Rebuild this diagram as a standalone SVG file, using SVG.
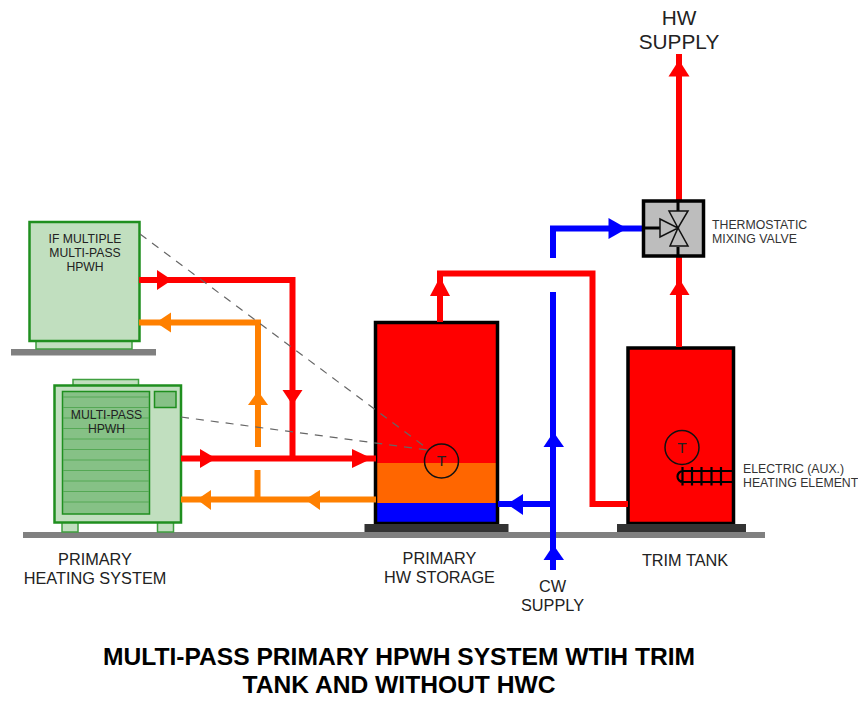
<svg xmlns="http://www.w3.org/2000/svg" width="858" height="707" viewBox="0 0 858 707">
<style>
text{font-family:"Liberation Sans",Arial,sans-serif;fill:#222;text-anchor:middle}
.lbl{font-size:16.3px}
.sm{font-size:12.2px}
.note{font-size:12.3px;fill:#333;text-anchor:start}
.title{font-size:24.6px;font-weight:bold;fill:#000}
.unit{fill:#c1dfbf;stroke:#1f8f1f;stroke-width:2.5}
.thin{fill:#c1dfbf;stroke:#3f9f3f;stroke-width:1.5}
.fin{stroke:#55a855;stroke-width:1;fill:none}
.slab{fill:#808080}
.base{fill:#333}
.pipe{fill:none;stroke-width:6}
.r{stroke:#f00}.o{stroke:#ff8000}.b{stroke:#00f}
.tank{fill:none;stroke:#000;stroke-width:3.5}
.lead{fill:none;stroke:#666;stroke-width:1.200;stroke-dasharray:8 7}
.ar{fill:#f00}.ao{fill:#ff8000}.ab{fill:#00f}
.t{fill:none;stroke:#111;stroke-width:1.5}
.tl{font-size:15.500px}
</style>
<g id="ground">
<rect class="slab" x="23" y="532" width="742" height="6"/>
<rect class="slab" x="11" y="349" width="145" height="6.5"/>
</g>
<g id="secondary-hpwh">
<rect class="thin" x="36" y="341" width="96" height="8"/>
<rect class="unit" x="29.500" y="222" width="110" height="119"/>
<text class="sm" x="85" y="243">IF MULTIPLE</text>
<text class="sm" x="85" y="257">MULTI-PASS</text>
<text class="sm" x="85" y="271">HPWH</text>
</g>
<g id="primary-hpwh">
<rect class="thin" x="73" y="379.500" width="65.500" height="6"/>
<rect class="thin" x="62" y="522" width="16" height="10"/>
<rect class="thin" x="157.500" y="522" width="16" height="10"/>
<rect class="unit" x="54.500" y="385.500" width="126.500" height="137"/>
<rect x="62.500" y="391.500" width="87" height="122.500" fill="#86c186" stroke="#1f8f1f" stroke-width="1.500"/>
<path class="fin" d="M63 397H149M63 407.500H149M63 418H149M63 428.500H149M63 439H149M63 449.500H149M63 460H149M63 470.500H149M63 481H149M63 491.500H149M63 502H149"/>
<rect x="154.500" y="391.500" width="21.500" height="16" fill="#86c186" stroke="#1f8f1f" stroke-width="1.500"/>
<text class="sm" x="106.500" y="419">MULTI-PASS</text>
<text class="sm" x="106.500" y="433">HPWH</text>
</g>
<g id="storage-tank">
<rect x="376" y="323" width="121" height="140" fill="#f00"/>
<rect x="376" y="463" width="121" height="40" fill="#f60"/>
<rect x="376" y="503" width="121" height="20" fill="#00f"/>
<rect class="tank" x="375.500" y="322.500" width="122" height="201"/>
<rect class="base" x="364.500" y="524" width="144" height="8"/>
</g>
<g id="trim-tank">
<rect x="628" y="348" width="105" height="175" fill="#f00"/>
<rect class="tank" x="628" y="348" width="105.500" height="175.500"/>
<rect class="base" x="617" y="524" width="129" height="8"/>
<circle class="t" cx="682" cy="447.500" r="17"/>
<text class="tl" x="682" y="453">T</text>
<path d="M733 471H683A5.500 5.500 0 0 0 683 482H733M682.500 467V485.500M692 467V485.500M701.500 467V485.500M711.500 467V485.500M721 467V485.500" fill="none" stroke="#000" stroke-width="2.200"/>
</g>
<g id="connectors">
<path class="pipe r" d="M139 280H292.500V458"/>
<path class="pipe r" d="M181 458.500H376"/>
<path class="pipe o" d="M139 322.500H258V447"/>
<path class="pipe o" d="M181 499.500H376"/>
<path class="pipe o" d="M257.500 470V499"/>
<path class="pipe r" d="M440 322V273.500H592.500V504H628"/>
<path class="pipe r" d="M679 347V256M679 200V54"/>
<path class="pipe b" d="M553 570V292M553 258V228.500H642"/>
<path class="pipe b" d="M498 504H553"/>
<path class="ar" d="M157 270L172 280L157 290Z"/>
<path class="ar" d="M282.500 390H302.500L292.500 405Z"/>
<path class="ar" d="M200 449L216 458.500L200 468Z"/>
<path class="ar" d="M352 449L372 458.500L352 468Z"/>
<path class="ao" d="M171 312.500V332.500L156 322.500Z"/>
<path class="ao" d="M248 405H268L258 391Z"/>
<path class="ao" d="M211 490V510L197 499.500Z"/>
<path class="ao" d="M320 490V510L305 499.500Z"/>
<path class="ar" d="M430 296H450L440 277Z"/>
<path class="ar" d="M669.500 295H689.500L679.500 279Z"/>
<path class="ar" d="M668.500 76.500H689.500L679 60Z"/>
<path class="ab" d="M543.500 447H564L553.500 432Z"/>
<path class="ab" d="M543.500 560H564L553.500 545Z"/>
<path class="ab" d="M523 494V515L507 504Z"/>
<path class="ab" d="M608.500 218V239L627 228.500Z"/>
<path class="lead" d="M140 234L428 449"/>
<path class="lead" d="M181 417L428 450"/>
</g>
<g id="sensor">
<circle class="t" cx="441.500" cy="461" r="17"/>
<text class="tl" x="441.500" y="466">T</text>
</g>
<g id="mixing-valve">
<rect x="643.500" y="201" width="60" height="55" fill="#bdbdbd" stroke="#000" stroke-width="3.500"/>
<path d="M643 228H660M678 201V211M678 247V256" stroke="#000" stroke-width="3" fill="none"/>
<path d="M660 219L678 228L660 237ZM669 211H688L678 228ZM670 246H688L678 228Z" fill="none" stroke="#111" stroke-width="1.500"/>
</g>
<g id="labels">
<text class="note" x="712" y="229">THERMOSTATIC</text>
<text class="note" x="712" y="243">MIXING VALVE</text>
<text class="note" x="743" y="473">ELECTRIC (AUX.)</text>
<text class="note" x="743" y="487">HEATING ELEMENT</text>
<text x="679" y="25" style="font-size:20.800px">HW</text>
<text x="679" y="49" style="font-size:20.800px">SUPPLY</text>
<text class="lbl" x="95" y="565">PRIMARY</text>
<text class="lbl" x="95" y="584">HEATING SYSTEM</text>
<text class="lbl" x="439.500" y="564">PRIMARY</text>
<text class="lbl" x="439.500" y="583">HW STORAGE</text>
<text class="lbl" x="685" y="566">TRIM TANK</text>
<text class="lbl" x="552.500" y="592">CW</text>
<text class="lbl" x="552.500" y="611">SUPPLY</text>
<text class="title" x="399" y="665">MULTI-PASS PRIMARY HPWH SYSTEM WTIH TRIM</text>
<text class="title" x="399" y="693">TANK AND WITHOUT HWC</text>
</g>
</svg>
